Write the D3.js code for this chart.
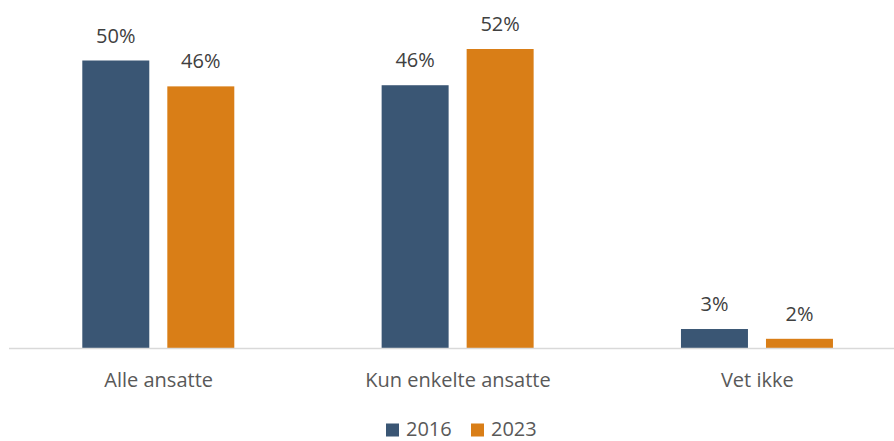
<!DOCTYPE html>
<html lang="no">
<head>
  <meta charset="UTF-8">
  <title>Alle ansatte / Kun enkelte ansatte</title>
  <script src="https://cdn.jsdelivr.net/npm/d3@7/dist/d3.min.js"></script>
  <style>
    body { margin: 0; background: #fff; }
    text { font-family: "Open Sans", sans-serif; }
    .value-label { font-size: 20px; fill: #404040; }
    .cat-label { font-size: 20px; fill: #595959; }
    .legend text { font-size: 20px; fill: #595959; }
  </style>
</head>
<body>
<svg width="894" height="441"></svg>
<script>
  // data
  const categories = ['Alle ansatte', 'Kun enkelte ansatte', 'Vet ikke'];
  const seriesNames = ['2016', '2023'];
  const values2016 = [50, 45.7, 3.3];
  const values2023 = [45.5, 52, 1.6];
  const colors = ['#3a5674', '#d97e17'];

  const svg = d3.select('svg');
  const baseline = 348;

  // kategori-skala (siste kategori går litt utenfor bildet)
  const x0 = d3.scaleBand()
    .domain(categories)
    .range([9, 907])
    .padding(0);

  // serier inne i hver kategori (relativt til kategoriens start)
  const x1 = d3.scaleBand()
    .domain(seriesNames)
    .range([73.3, 225.3])
    .paddingInner(0.212)
    .paddingOuter(0);

  const y = d3.scaleLinear()
    .domain([0, 60])
    .range([baseline, 3]);

  const rows = categories.map((c, i) => ({
    cat: c,
    vals: [
      { s: seriesNames[0], v: values2016[i] },
      { s: seriesNames[1], v: values2023[i] }
    ]
  }));

  const groups = svg.selectAll('g.group')
    .data(rows)
    .join('g')
    .attr('class', 'group')
    .attr('transform', d => `translate(${x0(d.cat)},0)`);

  groups.selectAll('rect')
    .data(d => d.vals)
    .join('rect')
    .attr('x', d => x1(d.s))
    .attr('y', d => y(d.v))
    .attr('width', x1.bandwidth())
    .attr('height', d => baseline - y(d.v))
    .attr('fill', (d, i) => colors[i]);

  groups.selectAll('text.value-label')
    .data(d => d.vals)
    .join('text')
    .attr('class', 'value-label')
    .attr('x', d => x1(d.s) + x1.bandwidth() / 2)
    .attr('y', d => y(d.v) - 18)
    .attr('text-anchor', 'middle')
    .text(d => Math.round(d.v) + '%');

  // x-akse linje
  svg.append('line')
    .attr('x1', 9)
    .attr('x2', 894)
    .attr('y1', baseline + 0.5)
    .attr('y2', baseline + 0.5)
    .attr('stroke', '#d9d9d9')
    .attr('stroke-width', 1.5);

  // kategori-etiketter
  svg.selectAll('text.cat-label')
    .data(categories)
    .join('text')
    .attr('class', 'cat-label')
    .attr('x', d => x0(d) + x0.bandwidth() / 2)
    .attr('y', 386.5)
    .attr('text-anchor', 'middle')
    .text(d => d);

  // legend
  const legendX = [386, 471];
  const legend = svg.append('g').attr('class', 'legend');
  seriesNames.forEach((s, i) => {
    legend.append('rect')
      .attr('x', legendX[i])
      .attr('y', 423.5)
      .attr('width', 13)
      .attr('height', 13)
      .attr('fill', colors[i]);
    legend.append('text')
      .attr('x', legendX[i] + 20)
      .attr('y', 436)
      .text(s);
  });
</script>
</body>
</html>
